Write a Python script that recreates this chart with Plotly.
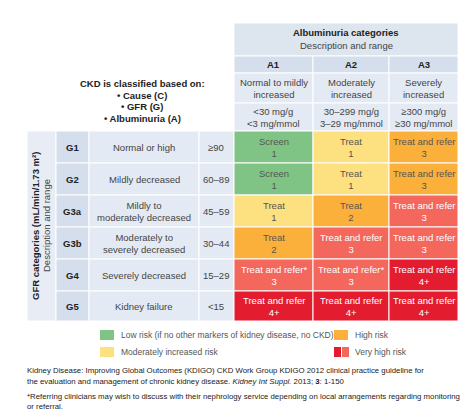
import plotly.graph_objects as go

# Data
alb_codes = ["A1", "A2", "A3"]
alb_desc = ["Normal to mildly<br>increased", "Moderately<br>increased", "Severely<br>increased"]
alb_range = ["<30 mg/g<br><3 mg/mmol", "30–299 mg/g<br>3–29 mg/mmol", "≥300 mg/g<br>≥30 mg/mmol"]
gfr_codes = ["G1", "G2", "G3a", "G3b", "G4", "G5"]
gfr_desc = ["Normal or high", "Mildly decreased", "Mildly to<br>moderately decreased",
            "Moderately to<br>severely decreased", "Severely decreased", "Kidney failure"]
gfr_range = ["≥90", "60–89", "45–59", "30–44", "15–29", "<15"]
risk = [[0, 1, 2], [0, 1, 2], [1, 2, 3], [2, 3, 3], [3, 3, 4], [4, 4, 4]]
action = [["Screen", "Treat", "Treat and refer"],
          ["Screen", "Treat", "Treat and refer"],
          ["Treat", "Treat", "Treat and refer"],
          ["Treat", "Treat and refer", "Treat and refer"],
          ["Treat and refer*", "Treat and refer*", "Treat and refer"],
          ["Treat and refer", "Treat and refer", "Treat and refer"]]
freq = [["1", "1", "3"], ["1", "1", "3"], ["1", "2", "3"],
        ["2", "3", "3"], ["3", "3", "4+"], ["4+", "4+", "4+"]]

risk_colors = ["#80c485", "#fde07f", "#fbb03b", "#f3675c", "#e31d2f"]
risk_text = ["#555555", "#555555", "#555555", "#ffffff", "#ffffff"]

# Layout grid (pixels)
col_x = [226, 305, 381, 450]
row_y = [123, 155, 187, 219, 251, 283, 313]
FONT = "Liberation Sans, Arial, sans-serif"

fig = go.Figure()
shapes = []
ann = []

def rect(x0, y0, x1, y1, color):
    shapes.append(dict(type="rect", x0=x0, y0=y0, x1=x1, y1=y1, fillcolor=color,
                       line=dict(color="white", width=1), layer="below"))

def text(x, y, s, size=9.5, color="#444444", bold=False, angle=0):
    if bold:
        s = "<b>" + s + "</b>"
    ann.append(dict(x=x, y=y, text=s, showarrow=False, textangle=angle,
                    font=dict(size=size, color=color, family=FONT), align="center"))

# Albuminuria header
rect(226, 15, 450, 48, "#dde5ef")
text(338, 24, "Albuminuria categories", 9.5, "#222222", True)
text(338, 37, "Description and range", 9.5, "#444444")
for j in range(3):
    rect(col_x[j], 48, col_x[j + 1], 65, "#d4deec")
    text((col_x[j] + col_x[j + 1]) / 2, 56, alb_codes[j], 9.5, "#222222", True)
    rect(col_x[j], 65, col_x[j + 1], 95, "#e4eaf3")
    text((col_x[j] + col_x[j + 1]) / 2, 80, alb_desc[j])
    rect(col_x[j], 95, col_x[j + 1], 123, "#e4eaf3")
    text((col_x[j] + col_x[j + 1]) / 2, 109, alb_range[j])

text(134, 75, "CKD is classified based on:", 9.5, "#222222", True)
text(134, 87, "• Cause (C)", 9.5, "#222222", True)
text(134, 98, "• GFR (G)", 9.5, "#222222", True)
text(134, 110, "• Albuminuria (A)", 9.5, "#222222", True)

# GFR side
rect(19, 123, 48, 313, "#e8edf5")
text(27, 218, "GFR categories (mL/min/1.73 m²)", 9.5, "#222222", True, -90)
text(38, 218, "Description and range", 9.5, "#444444", False, -90)
for i in range(6):
    y0, y1 = row_y[i], row_y[i + 1]
    ym = (y0 + y1) / 2
    rect(48, y0, 81, y1, "#d4deec")
    text(64, ym, gfr_codes[i], 9.5, "#222222", True)
    rect(81, y0, 191, y1, "#e4eaf3")
    text(136, ym, gfr_desc[i])
    rect(191, y0, 226, y1, "#e4eaf3")
    text(208, ym, gfr_range[i])
    for j in range(3):
        r = risk[i][j]
        rect(col_x[j], y0, col_x[j + 1], y1, risk_colors[r])
        text((col_x[j] + col_x[j + 1]) / 2, ym, action[i][j] + "<br>" + freq[i][j], 9.5, risk_text[r])

# Legend
legend_items = [(92, 327, [0], "Low risk (if no other markers of kidney disease, no CKD)"),
                (92, 344, [1], "Moderately increased risk"),
                (326, 327, [2], "High risk"),
                (326, 344, [4, 3], "Very high risk")]
for lx, ly, idx, label in legend_items:
    w = 14 / len(idx)
    for k, r in enumerate(idx):
        shapes.append(dict(type="rect", x0=lx + k * (w + 1), y0=ly - 5, x1=lx + k * (w + 1) + w, y1=ly + 5,
                           fillcolor=risk_colors[r], line=dict(width=0)))
    ann.append(dict(x=lx + 19, y=ly, text=label, showarrow=False, xanchor="left",
                    font=dict(size=8.5, color="#555555", family=FONT)))

notes = [(362, "Kidney Disease: Improving Global Outcomes (KDIGO) CKD Work Group KDIGO 2012 clinical practice guideline for"),
         (373, "the evaluation and management of chronic kidney disease. <i>Kidney Int Suppl.</i> 2013; <b>3</b>: 1-150"),
         (388, "*Referring clinicians may wish to discuss with their nephrology service depending on local arrangements regarding monitoring"),
         (398, "or referral.")]
for ny, s in notes:
    ann.append(dict(x=17, y=ny, text=s, showarrow=False, xanchor="left",
                    font=dict(size=7.8, color="#222222", family=FONT)))

fig.update_layout(
    width=474, height=417, margin=dict(l=0, r=0, t=0, b=0),
    paper_bgcolor="white", plot_bgcolor="white",
    xaxis=dict(range=[0, 474], visible=False, fixedrange=True),
    yaxis=dict(range=[417, 0], visible=False, fixedrange=True),
    shapes=shapes, annotations=ann, showlegend=False,
)

fig.write_html("out.html")
